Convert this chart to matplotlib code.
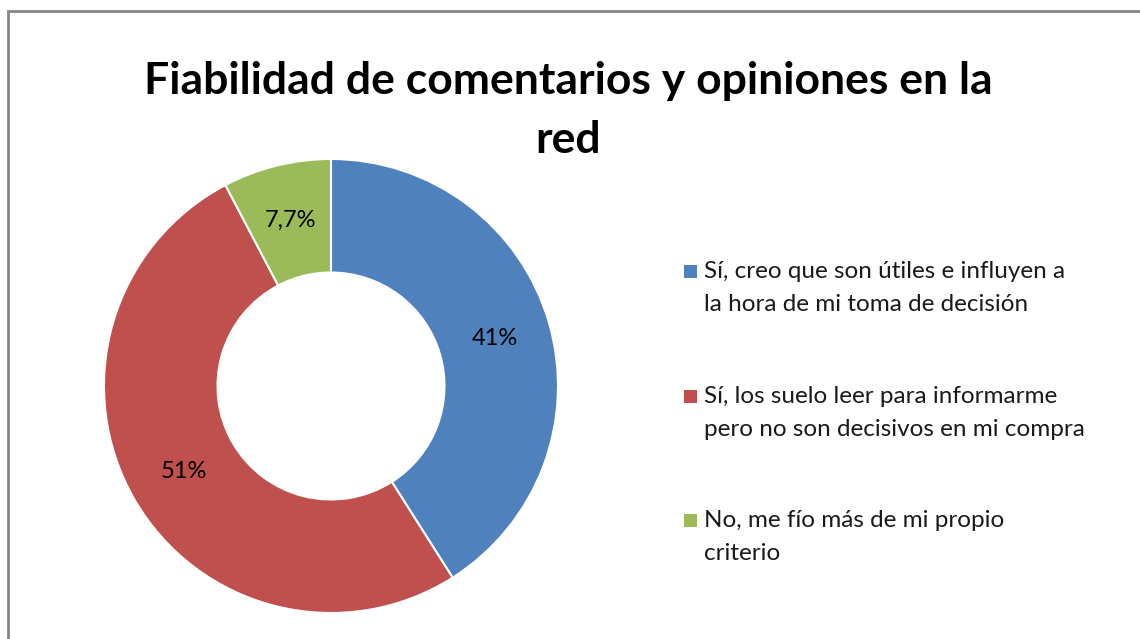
import numpy as np
import matplotlib.pyplot as plt
from matplotlib.patches import Rectangle

# datos
categorias = ["Sí, creo que son útiles e influyen a\nla hora de mi toma de decisión",
              "Sí, los suelo leer para informarme\npero no son decisivos en mi compra",
              "No, me fío más de mi propio\ncriterio"]
valores = [41.0, 51.3, 7.7]
etiquetas = ["41%", "51%", "7,7%"]
colores = ["#4F81BD", "#C0504D", "#9BBB59"]

plt.rcParams["font.family"] = ["Lato", "DejaVu Sans"]

W, H = 1140, 639
fig = plt.figure(figsize=(W / 100, H / 100), dpi=100)

def fy(y):
    # pixel desde arriba -> fraccion de figura
    return 1 - y / H

# marco gris del area del grafico
fig.patches.append(Rectangle((8 / W, -0.1), 1.2, fy(11) + 0.1, transform=fig.transFigure,
                             fill=False, edgecolor="#868686", linewidth=2))

# anillo
ax = fig.add_axes([104 / W, fy(613), 454 / W, 454 / H])
wedges, _ = ax.pie(valores, colors=colores, startangle=90, counterclock=False, radius=1,
                   wedgeprops=dict(width=0.5, edgecolor="white", linewidth=1.5))
ax.set_xlim(-1, 1)
ax.set_ylim(-1, 1)
ax.set_aspect("equal")
ax.axis("off")

total = sum(valores)
ang = 90
for v, lab in zip(valores, etiquetas):
    mid = ang - v / total * 360 / 2
    ang -= v / total * 360
    r = 0.75
    ax.text(r * np.cos(np.radians(mid)), r * np.sin(np.radians(mid)), lab,
            ha="center", va="center", fontsize=17, color="black")

# titulo (dos lineas)
fig.text(568 / W, fy(94), "Fiabilidad de comentarios y opiniones en la",
         ha="center", va="baseline", fontsize=32, fontweight="bold")
fig.text(568 / W, fy(153), "red",
         ha="center", va="baseline", fontsize=32, fontweight="bold")

# leyenda a mano
ys = [278, 403, 527]
for y, cat, c in zip(ys, categorias, colores):
    fig.patches.append(Rectangle((684 / W, fy(278 - 278 + y)), 13 / W, 13 / H,
                                 transform=fig.transFigure, facecolor=c, edgecolor="none"))
    for i, linea in enumerate(cat.split("\n")):
        fig.text(704 / W, fy(y + i * 33), linea, ha="left", va="baseline",
                 fontsize=17.5, color="#1a1a1a")

fig.savefig("out.png", dpi=100)
